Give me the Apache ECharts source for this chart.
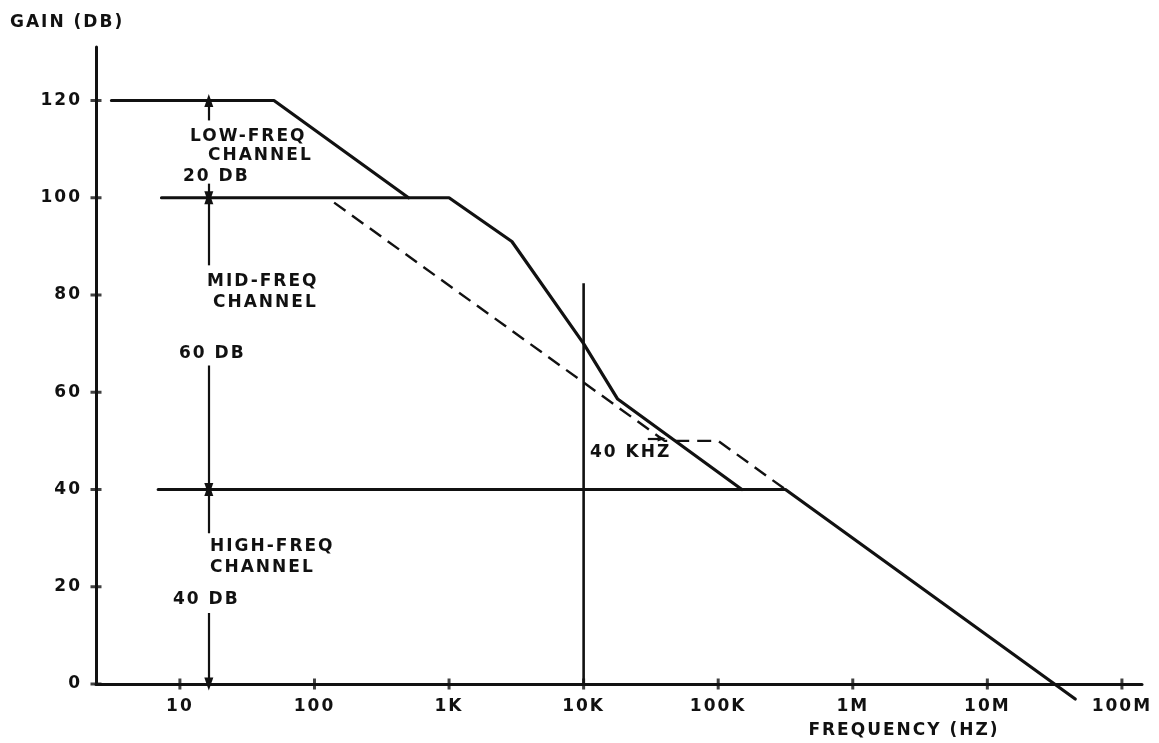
<!DOCTYPE html>
<html><head><meta charset="utf-8">
<script src="https://cdn.jsdelivr.net/npm/echarts@6/dist/echarts.min.js"></script>
<style>html,body{margin:0;padding:0;background:#fff}#c{display:block}</style>
</head><body>
<canvas id="c" width="1159" height="743"></canvas>
<script>
// ---- data ----
const xTickValues = [10, 100, 1000, 10000, 100000, 1000000, 10000000, 100000000];
const xTickLabels = ['10', '100', '1K', '10K', '100K', '1M', '10M', '100M'];
const yTickValues = [0, 20, 40, 60, 80, 100, 120];

const lowFreqX = [3.1, 50, 500];
const lowFreqY = [120, 120, 100];
const midFreqX = [7.3, 1000, 2930, 10000, 17900, 150000];
const midFreqY = [100, 100, 91, 70, 58.6, 40];
const highFreqX = [6.9, 316000, 45000000];
const highFreqY = [40, 40, -3.1];
const dashedX = [140, 40000, 100000, 316000];
const dashedY = [99, 50, 50, 40];
const markerX = [10000, 10000];
const markerY = [0, 82.4];

const dimArrowX = 16.4;
const dimArrowFrom = [115.9, 102.9, 86.1, 65.5, 31, 14.6];
const dimArrowTo = [120, 100, 100, 40, 40, 0];
const khzArrowX = [30000, 38000];
const khzArrowY = [50.5, 50.5];

const xMin = 2.38, xMax = 1.41e8, yMin = 0, yMax = 131;

// ---- chart ----
const FONT = 'DejaVu Sans';
const INK = '#111';
const canvas = document.getElementById('c');
const chart = echarts.init(canvas, null, {renderer: 'canvas', width: 1159, height: 743, devicePixelRatio: 1});
const ctx = canvas.getContext('2d');
try { ctx.letterSpacing = '2px'; } catch (e) {}

const zip = (xs, ys) => xs.map((x, i) => [x, ys[i]]);
const lineSeries = (name, xs, ys, extra) => Object.assign({
  name, type: 'line', data: zip(xs, ys), symbol: 'none', showSymbol: false,
  clip: false, silent: true, animation: false,
  lineStyle: {color: INK, width: 3.2, cap: 'round', join: 'round'}
}, extra || {});

function xLabel(v) {
  for (let i = 0; i < xTickValues.length; i++) {
    if (Math.abs(Math.log10(v) - Math.log10(xTickValues[i])) < 1e-6) return xTickLabels[i];
  }
  return '';
}

const arrowLines = dimArrowFrom.map((f, i) => [
  {coord: [dimArrowX, f], symbol: 'none'},
  {coord: [dimArrowX, dimArrowTo[i]], symbol: 'triangle', symbolSize: [9, 13]}
]);
arrowLines.push([
  {coord: [khzArrowX[0], khzArrowY[0]], symbol: 'none'},
  {coord: [khzArrowX[1], khzArrowY[1]], symbol: 'triangle', symbolSize: [6, 8]}
]);

const texts = [
  ['GAIN (DB)', 10, 23, 'left'],
  ['LOW-FREQ', 190, 137, 'left'],
  ['CHANNEL', 208, 156, 'left'],
  ['20 DB', 183, 177, 'left'],
  ['MID-FREQ', 207, 282, 'left'],
  ['CHANNEL', 213, 303, 'left'],
  ['60 DB', 179, 354, 'left'],
  ['HIGH-FREQ', 210, 547, 'left'],
  ['CHANNEL', 210, 568, 'left'],
  ['40 DB', 173, 600, 'left'],
  ['40 KHZ', 590, 453, 'left'],
  ['FREQUENCY (HZ)', 904, 731, 'center']
];

const labelStyle = {fontSize: 17, fontWeight: 'bold', color: INK, fontFamily: FONT};

const option = {
  backgroundColor: '#fff',
  animation: false,
  grid: {left: 96, right: 17, top: 47, bottom: 59, containLabel: false},
  xAxis: {
    type: 'log', logBase: 10, min: xMin, max: xMax,
    axisLine: {show: true, onZero: false, lineStyle: {color: INK, width: 3}},
    axisTick: {show: false}, splitLine: {show: false}, minorTick: {show: false},
    axisLabel: Object.assign({formatter: xLabel, margin: 14}, labelStyle)
  },
  yAxis: {
    type: 'value', min: yMin, max: yMax, interval: 20,
    axisLine: {show: true, onZero: false, lineStyle: {color: INK, width: 3}},
    axisTick: {show: false}, splitLine: {show: false},
    axisLabel: Object.assign({formatter: v => yTickValues.indexOf(v) >= 0 ? String(v) : '', margin: 14}, labelStyle)
  },
  graphic: texts.map(t => ({
    type: 'text', x: t[1], y: t[2], z: 100, silent: true,
    style: {text: t[0], fill: INK, font: 'bold 17px "' + FONT + '"', textAlign: t[3], textVerticalAlign: 'middle', verticalAlign: 'middle'}
  })),
  series: [
    lineSeries('low', lowFreqX, lowFreqY),
    lineSeries('mid', midFreqX, midFreqY),
    lineSeries('high', highFreqX, highFreqY),
    lineSeries('composite', dashedX, dashedY, {lineStyle: {color: INK, width: 2.4, type: [14, 8]}}),
    lineSeries('marker', markerX, markerY, {
      lineStyle: {color: INK, width: 2.6},
      markLine: {
        silent: true, animation: false, symbol: ['none', 'triangle'],
        label: {show: false},
        lineStyle: {type: 'solid', color: INK, width: 2.2},
        emphasis: {disabled: true},
        data: arrowLines
      }
    }),
    {
      name: 'xticks', type: 'scatter', silent: true, clip: false, animation: false,
      data: xTickValues.map(v => [v, yMin]), symbol: 'rect', symbolSize: [3, 11],
      itemStyle: {color: INK}
    },
    {
      name: 'yticks', type: 'scatter', silent: true, clip: false, animation: false,
      data: yTickValues.map(v => [xMin, v]), symbol: 'rect', symbolSize: [11, 3],
      itemStyle: {color: INK}
    }
  ]
};
chart.setOption(option);
</script>
</body></html>
